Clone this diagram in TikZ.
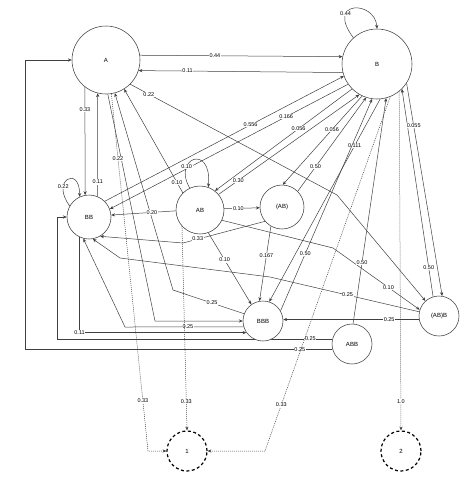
\documentclass[tikz,border=0pt]{standalone}
\usepackage{fontspec}
\setmainfont{Liberation Sans}
\usetikzlibrary{arrows.meta,backgrounds}
\begin{document}
\begin{tikzpicture}[x=1pt, y=-1pt, line join=round, >={Stealth[length=3.8pt,width=3.2pt]},
	st/.style={circle, draw=black!75, fill=white, line width=0.55pt, inner sep=0pt, font=\fontsize{6}{7}\selectfont},
	endst/.style={st, draw=black, line width=1.2pt, dash pattern=on 3pt off 2.5pt},
	lbl/.style={fill=white, inner sep=0.6pt, font=\fontsize{5.5}{6}\selectfont},
	conn/.style={draw=black!75, line width=0.5pt},
	dotconn/.style={conn, dash pattern=on 1pt off 1pt}]
	\useasboundingbox (0,0) rectangle (463,480);
	% states
	\node[st, minimum size=68pt] (A) at (106,60) {A};
	\node[st, minimum size=70pt] (B) at (377,64) {B};
	\node[st, minimum size=44pt] (BB) at (89,217) {BB};
	\node[st, minimum size=48pt] (AB) at (200,210) {AB};
	\node[st, minimum size=44pt] (ABp) at (282,207) {(AB)};
	\node[st, minimum size=40pt] (BBB) at (263,321) {BBB};
	\node[st, minimum size=40pt] (ABpB) at (439,316) {(AB)B};
	\node[st, minimum size=40pt] (ABB) at (352,344) {ABB};
	\node[endst, minimum size=40pt] (s1) at (187,451) {1};
	\node[endst, minimum size=40pt] (s2) at (401,451) {2};
	\begin{scope}[on background layer]
		% A and B
		\draw[conn,->] (A.8) -- node[lbl,pos=.37]{0.44} (B.168);
		\draw[conn,->] (B.194) -- node[lbl,pos=.76]{0.11} (A.-18);
		\draw[conn,->] (B.132) .. controls (325,0) and (375,0) .. node[lbl,pos=.3]{0.44} (B.90);
		% into and out of A
		\draw[conn,->] (A.232) -- node[lbl,pos=.21]{0.33} (BB.100);
		\draw[conn,->] (BB.67) -- node[lbl,pos=.14]{0.11} (A.256);
		\draw[conn,->] (A.273) -- (155,321) -- (BBB.180);
		\draw[dotconn,->] (A.279) -- node[lbl,pos=.18]{0.22} node[lbl,pos=.86]{0.33} (148,451) -- (s1.180);
		\draw[conn,->] (BBB.159) -- node[lbl,pos=.45]{0.25} (173,290) -- (A.285);
		\draw[conn,->] (AB.135) -- node[lbl,pos=.1]{0.10} (A.302);
		\draw[conn,->] (A.315) -- node[lbl,pos=.09]{0.22} (337,195) -- (ABpB.132);
		\draw[conn,->] (ABB.195) -| node[lbl,pos=.053]{0.25} (25,60) -- (A.180);
		% BB
		\draw[conn,->] (BB.150) .. controls (50,180) and (80,165) .. node[lbl,pos=.3]{0.22} (BB.115);
		\draw[conn,->] (AB.182) -- node[lbl,pos=.37]{0.20} (BB.5);
		\draw[conn,->] (BB.45) -- node[lbl,pos=.61]{0.556} (B.200);
		\draw[conn,->] (B.215) -- node[lbl,pos=.26]{0.166} (BB.21);
		\draw[conn,->] (ABp.220) -- node[lbl,pos=.82]{0.33} (183,243) -- (BB.300);
		\draw[conn,->] (ABpB.168) -- node[lbl,pos=.48]{0.25} (270,277) -- (120,258) -- (BB.280);
		\draw[conn,->] (BBB.197) -- node[lbl,pos=.47]{0.25} (125,327) -- (BB.255);
		\draw[conn,->] (BB.245) |- node[lbl]{0.11} (BBB.215);
		\draw[conn,->] (ABB.165) -| node[lbl,pos=.04]{0.25} (57,217) -- (BB.180);
		% AB
		\draw[conn,->] (AB.115) .. controls (172,158) and (212,143) .. node[lbl,pos=.3]{0.10} (AB.70);
		\draw[conn,->] (B.225) -- node[lbl,pos=.39]{0.056} (AB.52);
		\draw[conn,->] (AB.40) -- node[lbl,pos=.14]{0.30} (B.240);
		\draw[conn,->] (AB.3) -- node[lbl,pos=.4]{0.10} (ABp.182);
		\draw[conn,->] (AB.290) -- node[lbl,pos=.38]{0.10} (BBB.125);
		\draw[conn,->] (AB.335) -- (333,248) -- node[lbl,pos=.64]{0.10} (ABpB.162);
		\draw[dotconn,->] (AB.222) -- node[lbl,pos=.86]{0.33} (s1.north);
		% (AB)
		\draw[conn,->] (B.245) -- node[lbl,pos=.38]{0.056} (ABp.88);
		\draw[conn,->] (ABp.45) -- node[lbl,pos=.26]{0.50} (B.252);
		\draw[conn,->] (ABp.240) -- node[lbl,pos=.39]{0.167} (BBB.100);
		% BBB, ABB, (AB)B
		\draw[conn,->] (B.275) -- node[lbl,pos=.23]{0.111} (BBB.72);
		\draw[conn,->] (BBB.30) -- node[lbl,pos=.27]{0.50} (B.262);
		\draw[conn,->] (ABB.87) -- node[lbl,pos=.27]{0.50} (B.285);
		\draw[conn,->] (ABpB.107) -- node[lbl,pos=.14]{0.50} (B.315);
		\draw[conn,->] (B.327) -- node[lbl,pos=.2]{0.055} (ABpB.81);
		\draw[conn,->] (ABpB.190) -- node[lbl,pos=.22]{0.25} (ABpB.190 -| BBB.east);
		% to the end states
		\draw[dotconn,->] (B.292) -- node[lbl,pos=.87]{0.33} (265,451) -- (s1.0);
		\draw[dotconn,->] (B.309) -- node[lbl,pos=.915]{1.0} (s2.north);
	\end{scope}
\end{tikzpicture}
\end{document}
